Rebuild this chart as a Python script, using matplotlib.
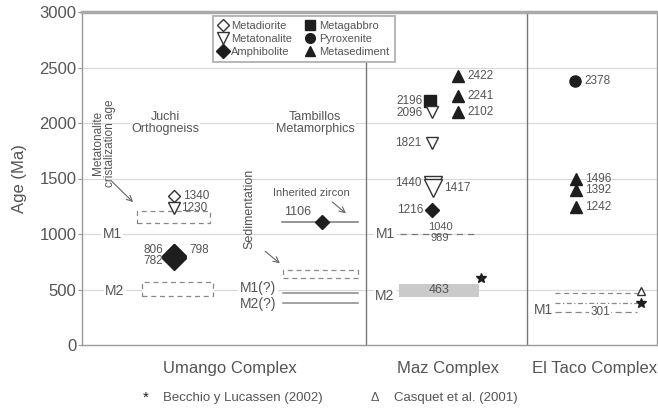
import matplotlib.pyplot as plt
import matplotlib.patches as mpatches
from matplotlib.lines import Line2D

plt.rcParams['font.family'] = ['Liberation Sans', 'DejaVu Sans']

GRAY = '#555555'
LINE = '#808080'
INK = '#1e1e1e'

# ages (Ma)
umango_diorite = [1340]
umango_tonalite = [1230]
umango_amphibolite = [806, 798, 782]
tambillos_amphibolite = [1106]
maz_gabbro = [2196]
maz_tonalite = [2096, 1821]
maz_tonalite_big = [1440, 1417]
maz_amphibolite = [1216]
maz_sediment = [2422, 2241, 2102]
taco_pyroxenite = [2378]
taco_sediment = [1496, 1392, 1242]

# metamorphic events / ranges (Ma)
umango_m1_box = (1100, 1205)
umango_m2_box = (440, 565)
tambillos_sed_box = (600, 675)
tambillos_m_lines = [470, 380]
maz_m1 = 1000
maz_m1_range = ['1040', '989']
maz_m2_box = (432, 550)
maz_m2_age = '463'
taco_m1_lines = [470, 380, 300]
taco_m1_age = '301'
becchio_ages = [600, 380]
casquet_ages = [486]

complexes = ['Umango Complex', 'Maz Complex', 'El Taco Complex']
yticks = [0, 500, 1000, 1500, 2000, 2500, 3000]

# column positions (x in pixel-like units)
X_JUCHI, X_TAMB = 92, 240
X_MAZ_L, X_MAZ_R = 350, 376
X_TACO, X_CASQ = 494, 559
SEP1, SEP2 = 284, 445

fig = plt.figure(figsize=(6.58, 4.12), dpi=100)
ax = fig.add_axes([82/658, 1-345/412, 575/658, 333/412])
ax.set_xlim(0, 575)
ax.set_ylim(0, 3000)
ax.set_xticks([])
ax.set_yticks(yticks)
ax.tick_params(axis='y', colors='#999999', labelcolor=GRAY, labelsize=12,
               length=3, width=0.8, pad=1)
for s in ax.spines.values():
    s.set_color('#999999')
    s.set_linewidth(1.0)
ax.spines['top'].set_linewidth(2.5)
ax.spines['top'].set_color('#aaaaaa')

for v in yticks[1:-1]:
    ax.axhline(v, color='#d8d8d8', lw=0.8, zorder=0)

ax.axvline(SEP1, ymax=2545/3000, color='#777777', lw=1.0, zorder=1)
ax.axvline(SEP2, color='#777777', lw=1.0, zorder=1)

wbox = dict(facecolor='white', edgecolor='none', pad=1)


def lab(txt, x, y, ha='left', size=8.5, **kw):
    ax.text(x, y, txt, ha=ha, va='center', color=GRAY, fontsize=size, **kw)


def dashed_box(x0, x1, ages, **kw):
    r = mpatches.Rectangle((x0, ages[0]), x1 - x0, ages[1] - ages[0],
                           facecolor='white', edgecolor='#888888', lw=0.9,
                           ls=(0, (4, 3)), zorder=2)
    ax.add_patch(r)


open_kw = dict(ls='none', mfc='white', mec='#333333', mew=1.0, zorder=5)
fill_kw = dict(ls='none', color=INK, zorder=5)

# ---- Umango: Juchi orthogneiss
lab('Juchi\nOrthogneiss', 83, 2000, ha='center', size=9, bbox=wbox,
    linespacing=1.1)
dashed_box(55, 128, umango_m1_box)
dashed_box(60, 131, umango_m2_box)
ax.plot([X_JUCHI]*len(umango_diorite), umango_diorite, 'D', ms=6, **open_kw)
ax.plot([X_JUCHI]*len(umango_tonalite), umango_tonalite, 'v', ms=8, **open_kw)
ax.plot([X_JUCHI]*len(umango_amphibolite), umango_amphibolite, 'D', ms=12,
        **fill_kw)
lab(str(umango_diorite[0]), X_JUCHI + 9, umango_diorite[0])
lab(str(umango_tonalite[0]), X_JUCHI + 7, umango_tonalite[0])
lab(str(umango_amphibolite[0]), X_JUCHI - 11, 860, ha='right')
lab(str(umango_amphibolite[2]), X_JUCHI - 11, 760, ha='right')
lab(str(umango_amphibolite[1]), X_JUCHI + 15, 860)
lab('M1', 30, 1000, ha='center', size=10, bbox=wbox)
lab('M2', 33, 485, ha='center', size=10, bbox=wbox)
lab('Metatonalite\ncristalization age', 22, 1820, ha='center', size=8.5,
    rotation=90, linespacing=1.05)
ax.annotate('', xy=(53, 1270), xytext=(28, 1490),
            arrowprops=dict(arrowstyle='->', color='#666666', lw=0.8))

# ---- Umango: Tambillos metamorphics
lab('Tambillos\nMetamorphics', 233, 2000, ha='center', size=9, bbox=wbox,
    linespacing=1.1)
lab('Sedimentation', 167, 1225, ha='center', size=9, rotation=90)
ax.annotate('', xy=(200, 720), xytext=(181, 860),
            arrowprops=dict(arrowstyle='->', color='#666666', lw=0.8))
lab('Inherited zircon', 229, 1370, ha='center', size=8)
ax.annotate('', xy=(266, 1170), xytext=(248, 1306),
            arrowprops=dict(arrowstyle='->', color='#666666', lw=0.8))
ax.plot([200, 276], [tambillos_amphibolite[0]]*2, color='#777777', lw=1.1,
        zorder=3)
ax.plot([X_TAMB], tambillos_amphibolite, 'D', ms=7, **fill_kw)
lab(str(tambillos_amphibolite[0]), 216, 1195, ha='center', size=9)
dashed_box(201, 276, tambillos_sed_box)
for a in tambillos_m_lines:
    ax.plot([201, 276], [a, a], color='#888888', lw=1.1, zorder=3)
lab('M1(?)', 176, 515, ha='center', size=10, bbox=wbox)
lab('M2(?)', 176, 370, ha='center', size=10)

# ---- Maz complex
ax.plot([X_MAZ_R]*3, maz_sediment, '^', ms=8, **fill_kw)
for a in maz_sediment:
    lab(str(a), X_MAZ_R + 9, a)
ax.plot([X_MAZ_L - 2], maz_gabbro, 's', ms=8, **fill_kw)
lab(str(maz_gabbro[0]), X_MAZ_L - 9, maz_gabbro[0], ha='right')
ax.plot([X_MAZ_L]*2, maz_tonalite, 'v', ms=9, **open_kw)
lab(str(maz_tonalite[0]), X_MAZ_L - 9, maz_tonalite[0] - 10, ha='right')
lab(str(maz_tonalite[1]), X_MAZ_L - 11, maz_tonalite[1], ha='right')
ax.plot([X_MAZ_L + 1]*2, maz_tonalite_big, 'v', ms=13, **open_kw)
lab(str(maz_tonalite_big[0]), X_MAZ_L - 10, 1460, ha='right')
lab(str(maz_tonalite_big[1]), X_MAZ_L + 12, 1412)
ax.plot([X_MAZ_L], maz_amphibolite, 'D', ms=7, **fill_kw)
lab(str(maz_amphibolite[0]), X_MAZ_L - 9, maz_amphibolite[0], ha='right')
lab('M1', 303, maz_m1, ha='center', size=10, bbox=wbox)
ax.plot([318, 393], [maz_m1]*2, color='#777777', lw=0.9, ls=(0, (5, 4)),
        zorder=3)
lab(maz_m1_range[0], 358, 1062, ha='center', size=8)
lab(maz_m1_range[1], 358, 968, ha='center', size=8)
ax.add_patch(mpatches.Rectangle((317, maz_m2_box[0]), 80,
                                maz_m2_box[1] - maz_m2_box[0],
                                facecolor='#cacaca', edgecolor='none',
                                zorder=2))
lab(maz_m2_age, 357, 491, ha='center', size=9)
lab('M2', 303, 440, ha='center', size=10, bbox=wbox)
ax.plot([399], becchio_ages[:1], '*', ms=7, **fill_kw)

# ---- El Taco complex
ax.plot([X_TACO - 1], taco_pyroxenite, 'o', ms=8, **fill_kw)
lab(str(taco_pyroxenite[0]), X_TACO + 8, taco_pyroxenite[0])
ax.plot([X_TACO]*3, taco_sediment, '^', ms=8, **fill_kw)
for a in taco_sediment:
    lab(str(a), X_TACO + 9, a)
styles = [(0, (4, 3)), (0, (4, 2, 1, 2)), (0, (5, 3))]
for a, st in zip(taco_m1_lines, styles):
    ax.plot([473, 555], [a, a], color='#888888', lw=0.9, ls=st, zorder=3)
lab(taco_m1_age, 518, taco_m1_lines[2], ha='center', size=8.5, bbox=wbox)
lab('M1', 461, 315, ha='center', size=10, bbox=wbox)
ax.plot([X_CASQ], casquet_ages, '^', ms=6, **open_kw)
ax.plot([X_CASQ], becchio_ages[1:], '*', ms=7, **fill_kw)

# ---- complex names
for name, xc in zip(complexes, [148, 366, 513]):
    ax.text(xc, -0.07, name, transform=ax.get_xaxis_transform(),
            ha='center', va='center', color=GRAY, fontsize=12)

ax.set_ylabel('Age (Ma)', color=GRAY, fontsize=12)
ax.yaxis.set_label_coords(-0.095, 0.5)

# ---- legend
handles = [
    Line2D([], [], marker='D', ms=6, **open_kw),
    Line2D([], [], marker='v', ms=8, **open_kw),
    Line2D([], [], marker='D', ms=7, **fill_kw),
    Line2D([], [], marker='s', ms=7, **fill_kw),
    Line2D([], [], marker='o', ms=7, **fill_kw),
    Line2D([], [], marker='^', ms=7, **fill_kw),
]
labels = ['Metadiorite', 'Metatonalite', 'Amphibolite',
          'Metagabbro', 'Pyroxenite', 'Metasediment']
leg = ax.legend(handles, labels, ncol=2, loc='upper left',
                bbox_to_anchor=(207/658, 1-10/412),
                bbox_transform=fig.transFigure, fontsize=8,
                handlelength=0.8, handletextpad=0.4, columnspacing=1.2,
                labelspacing=0.25, borderpad=0.5, fancybox=False,
                framealpha=1, labelcolor=GRAY)
leg.get_frame().set_edgecolor('#aaaaaa')
leg.get_frame().set_linewidth(1.2)

# ---- footer
fig.text(146/658, 1-398/412, '*', ha='center', va='center', fontsize=11,
         color=INK)
fig.text(163/658, 1-398/412, 'Becchio y Lucassen (2002)', ha='left',
         va='center', fontsize=9.5, color=GRAY)
fig.text(375/658, 1-398/412, '\u0394', ha='center', va='center',
         fontsize=9, color=GRAY)
fig.text(394/658, 1-398/412, 'Casquet et al. (2001)', ha='left',
         va='center', fontsize=9.5, color=GRAY)

fig.savefig('out.png', dpi=100)
